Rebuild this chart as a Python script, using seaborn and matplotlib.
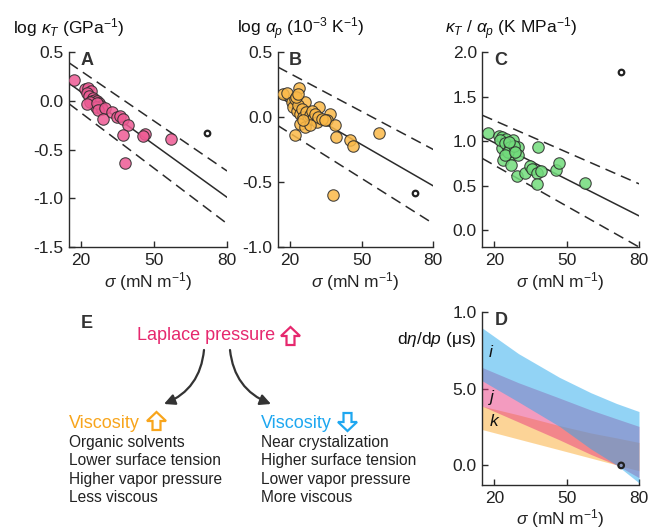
import numpy as np
import pandas as pd
import matplotlib
matplotlib.use("Agg")
import matplotlib.pyplot as plt
from matplotlib.patches import Polygon
import seaborn as sns

# ---- data ----
# A: log kappa_T vs surface tension
A_x = [17.1, 21.6, 22.9, 23.9, 22.3, 23.4, 25.0, 24.3, 25.7, 26.6, 27.5, 28.0, 23.6, 26.1, 28.4,
       22.3, 26.4, 27.1, 29.8, 29.1, 32.5, 34.6, 36.0, 37.3, 39.1, 37.1, 38.1, 46.2, 45.5, 56.9]
A_y = [0.21, 0.12, 0.13, 0.10, 0.075, 0.05, 0.027, 0.0, 0.007, -0.007, -0.027, -0.05, -0.017, -0.06, -0.085,
       -0.03, -0.02, -0.09, -0.07, -0.19, -0.11, -0.17, -0.16, -0.19, -0.25, -0.35, -0.64, -0.34, -0.36, -0.39]
A_water = (71.6, -0.335)

# B: log alpha_p
B_x = [17.1, 18.8, 24.0, 26.4, 32.4, 36.9, 35.5, 39.0, 39.4, 45.3, 46.4, 57.1, 22.2, 38.0,
       20.9, 21.5, 22.2, 22.9, 23.6, 24.3, 25.0, 25.7, 26.8, 27.8, 28.5, 29.2, 29.9, 30.6, 31.3,
       32.0, 33.4, 34.8, 24.3, 26.4, 28.5, 22.7, 23.6, 25.5]
B_y = [0.18, 0.185, 0.22, 0.115, 0.08, 0.02, -0.025, -0.064, -0.15, -0.18, -0.22, -0.123, -0.135, -0.6,
       0.115, 0.077, 0.14, 0.05, 0.09, 0.026, 0.064, 0.0, 0.038, -0.026, 0.013, 0.05, -0.013, 0.026, -0.038,
       0.0, -0.013, -0.02, -0.05, -0.077, -0.064, 0.154, 0.18, -0.026]
B_water = (72.4, -0.585)

# C: kappa_T / alpha_p
C_x = [17.4, 21.9, 23.2, 25.0, 27.8, 23.0, 25.8, 29.9, 27.1, 29.9, 23.7, 26.9, 38.3, 29.2, 32.7, 34.8,
       35.5, 37.6, 39.4, 37.6, 45.7, 46.7, 57.6, 22.3, 24.4, 26.5, 25.5, 28.3, 24.6, 28.6, 26.0]
C_y = [1.093, 1.06, 1.05, 1.02, 1.01, 0.918, 0.918, 0.936, 0.86, 0.84, 0.79, 0.73, 0.93, 0.607, 0.645, 0.72,
       0.69, 0.637, 0.667, 0.517, 0.68, 0.757, 0.53, 1.01, 0.974, 0.936, 0.88, 0.944, 0.843, 0.88, 0.992]
C_water = (72.5, 1.78)

# fit lines and prediction bands at sigma = 15 and 80
fit_x = [15, 80]
A_fit, A_hi, A_lo = [0.18, -0.99], [0.39, -0.72], [-0.03, -1.26]
B_fit, B_hi, B_lo = [0.16, -0.53], [0.385, -0.25], [-0.065, -0.82]
C_fit, C_hi, C_lo = [1.05, 0.16], [1.29, 0.52], [0.805, -0.19]

# D: d eta / d p bands
D_x = [15, 30, 47, 60, 70.6, 80]
i_up = [8.97, 7.3, 5.75, 4.75, 4.05, 3.52]
i_lo = [5.52, 4.15, 2.55, 1.08, 0.04, -1.14]
j_up = [6.39, 5.4, 4.4, 3.62, 3.05, 2.55]
j_lo = [3.87, 2.84, 1.67, 0.72, 0.04, -0.8]
k_up = [3.87, 3.3, 2.6, 2.12, 1.8, 1.5]
k_lo = [2.34, 1.72, 1.02, 0.48, 0.04, -0.35]
D_water = (72.6, 0.0)

left_lines = ["Organic solvents", "Lower surface tension", "Higher vapor pressure", "Less viscous"]
right_lines = ["Near crystalization", "Higher surface tension", "Lower vapor pressure", "More viscous"]

PINK, ORANGE, GREEN = "#ee5b94", "#fbb948", "#72dc7c"
DARK = "#2b2b2b"

sns.set_theme(style="ticks")
plt.rcParams["font.family"] = ["Liberation Sans", "DejaVu Sans"]
plt.rcParams["axes.unicode_minus"] = False
plt.rcParams["mathtext.fontset"] = "custom"
plt.rcParams["mathtext.rm"] = "Liberation Sans"
plt.rcParams["mathtext.it"] = "Liberation Sans:italic"
plt.rcParams["mathtext.bf"] = "Liberation Sans:bold"

FS = 12.5
fig = plt.figure(figsize=(6.49, 5.31), dpi=100)

# panel E drawn on a full-figure axes in pixel units
axE = fig.add_axes([0, 0, 1, 1])
axE.set_xlim(0, 649)
axE.set_ylim(531, 0)
axE.axis("off")

axA = fig.add_axes([0.1063, 0.5348, 0.2435, 0.3672])
axB = fig.add_axes([0.4279, 0.5348, 0.2398, 0.3672])
axC = fig.add_axes([0.7432, 0.5348, 0.2414, 0.3672])
axD = fig.add_axes([0.7432, 0.0860, 0.2414, 0.3259])


def style(ax, ylim, yticks, ylabels, letter, lx, lpad=2):
    ax.set_xlim(15, 80)
    ax.set_ylim(*ylim)
    ax.set_xticks([20, 50, 80])
    ax.set_yticks(yticks)
    ax.set_yticklabels(ylabels)
    sns.despine(ax=ax)
    for s in ["left", "bottom"]:
        ax.spines[s].set_color(DARK)
        ax.spines[s].set_linewidth(1.0)
    ax.tick_params(direction="in", length=4, width=1, labelsize=FS, pad=4,
                   color=DARK, labelcolor="#222")
    ax.set_xlabel(r"$\sigma$ (mN m$^{-1}$)", fontsize=FS, labelpad=lpad, color="#222")
    ax.set_ylabel("")
    ax.text(lx, 1.0, letter, transform=ax.transAxes, fontsize=13, fontweight="bold",
            ha="center", va="top", color="#333")


def dots(ax, xs, ys, color, water):
    sns.scatterplot(x=xs, y=ys, ax=ax, color=color, edgecolor=DARK, linewidth=0.8,
                    s=68, alpha=0.85, zorder=3, legend=False)
    ax.scatter([water[0]], [water[1]], s=16, facecolor="white", edgecolor="#222",
               linewidth=1.6, zorder=4)


def fits(ax, mid, hi, lo):
    ax.plot(fit_x, mid, color=DARK, lw=1.1, zorder=2)
    ax.plot(fit_x, hi, color=DARK, lw=1.1, ls=(0, (7, 4)), zorder=2)
    ax.plot(fit_x, lo, color=DARK, lw=1.1, ls=(0, (7, 4)), zorder=2)


def block_arrow(ax, x0, y0, w, h, color, up=True):
    # outlined white block arrow, box from (x0, y0) with width w, height h (y down)
    sw = 0.42 * w
    hh = 0.5 * h
    cx = x0 + w / 2
    if up:
        pts = [(cx, y0), (x0 + w, y0 + hh), (cx + sw / 2, y0 + hh), (cx + sw / 2, y0 + h),
               (cx - sw / 2, y0 + h), (cx - sw / 2, y0 + hh), (x0, y0 + hh)]
    else:
        pts = [(cx, y0 + h), (x0 + w, y0 + h - hh), (cx + sw / 2, y0 + h - hh), (cx + sw / 2, y0),
               (cx - sw / 2, y0), (cx - sw / 2, y0 + h - hh), (x0, y0 + h - hh)]
    ax.add_patch(Polygon(pts, closed=True, facecolor="white", edgecolor=color, lw=1.6, joinstyle="miter"))


fits(axA, A_fit, A_hi, A_lo)
dots(axA, A_x, A_y, PINK, A_water)
style(axA, (-1.5, 0.5), [0.5, 0.0, -0.5, -1.0, -1.5], ["0.5", "0.0", "-0.5", "-1.0", "-1.5"], "A", 0.112)

fits(axB, B_fit, B_hi, B_lo)
dots(axB, B_x, B_y, ORANGE, B_water)
style(axB, (-1.0, 0.5), [0.5, 0.0, -0.5, -1.0], ["0.5", "0.0", "-0.5", "-1.0"], "B", 0.111)

fits(axC, C_fit, C_hi, C_lo)
dots(axC, C_x, C_y, GREEN, C_water)
style(axC, (-0.19, 2.0), [0.0, 0.5, 1.0, 1.5, 2.0], ["0.0", "0.5", "1.0", "1.5", "2.0"], "C", 0.119)

# D bands
axD.fill_between(D_x, k_lo, k_up, color="#fbab31", alpha=0.5, lw=0)
axD.fill_between(D_x, j_lo, j_up, color="#e93981", alpha=0.5, lw=0)
axD.fill_between(D_x, i_lo, i_up, color="#27a9ed", alpha=0.5, lw=0)
axD.scatter([D_water[0]], [D_water[1]], s=16, facecolor="none", edgecolor="#222", linewidth=1.6, zorder=4)
for lab, xx, yy in [("i", 18.6, 7.35), ("j", 19.0, 4.45), ("k", 20.0, 2.88)]:
    axD.text(xx, yy, lab, fontsize=FS, style="italic", ha="center", va="center", color="#111")
style(axD, (-1.3, 10), [0, 5, 10], ["0.0", "5.0", "1.0"], "D", 0.119, lpad=1)
axD.text(-0.04, 0.84, r"d$\eta$/d$p$ ($\mathrm{\mu}$s)", transform=axD.transAxes,
         fontsize=FS, ha="right", va="center", color="#111")

# panel titles
fig.text(13 / 649, 1 - 33.5 / 531, r"log $\kappa_T$ (GPa$^{-1}$)", fontsize=FS, color="#111")
fig.text(237 / 649, 1 - 33.5 / 531, r"log $\alpha_p$ (10$^{-3}$ K$^{-1}$)", fontsize=FS, color="#111")
fig.text(445 / 649, 1 - 33.5 / 531, r"$\kappa_T$ / $\alpha_p$ (K MPa$^{-1}$)", fontsize=FS, color="#111")

# panel E
axE.text(87, 324, "E", fontsize=13, fontweight="bold", ha="center", va="center", color="#333")
axE.text(137, 336, "Laplace pressure", fontsize=FS + 0.5, color="#e6286e", va="center")
block_arrow(axE, 281, 327, 19, 18, "#e6286e", up=True)
axE.text(69, 423, "Viscosity", fontsize=FS + 0.5, color="#f8a51c", va="center")
block_arrow(axE, 147, 412, 19, 18, "#f8a51c", up=True)
axE.text(261, 423, "Viscosity", fontsize=FS + 0.5, color="#1ea7f0", va="center")
block_arrow(axE, 338, 413, 19, 18, "#1ea7f0", up=False)
for n, (l, r) in enumerate(zip(left_lines, right_lines)):
    yy = 442 + n * 18.6
    axE.text(69, yy, l, fontsize=11.2, color="#222", va="center")
    axE.text(261, yy, r, fontsize=11.2, color="#222", va="center")

arrow = dict(arrowstyle="-|>", color="#333", lw=1.6, mutation_scale=16, shrinkA=0, shrinkB=0)
axE.annotate("", xy=(164, 404), xytext=(204, 350),
             arrowprops=dict(arrow, connectionstyle="arc3,rad=-0.3"))
axE.annotate("", xy=(271, 404), xytext=(230, 350),
             arrowprops=dict(arrow, connectionstyle="arc3,rad=0.3"))

fig.savefig("out.png", dpi=100)
